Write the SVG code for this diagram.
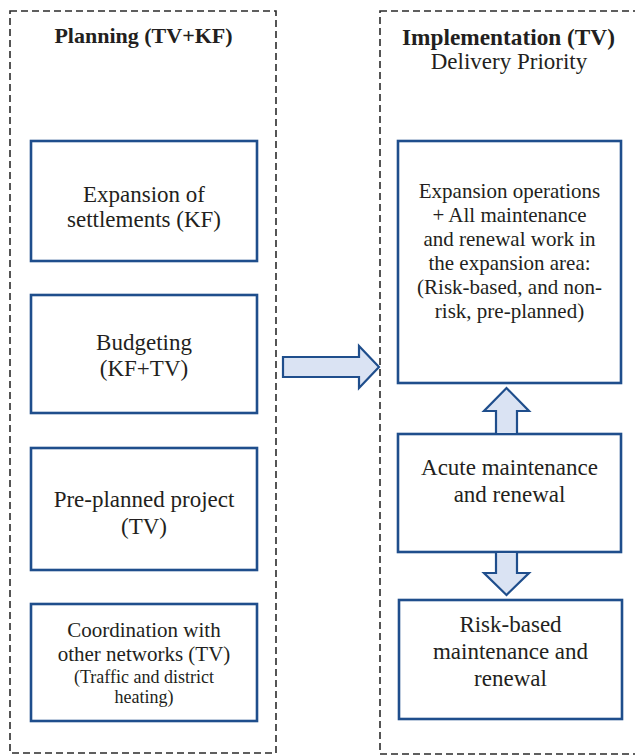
<svg xmlns="http://www.w3.org/2000/svg" width="635" height="756" viewBox="0 0 635 756">
  <style>
    .frame { fill: none; stroke: #2b2b2b; stroke-width: 1.6; stroke-dasharray: 7 4; }
    .box { fill: #ffffff; stroke: #1f4e8c; stroke-width: 2.6; }
    .arrow { fill: #dae3f3; stroke: #1f4e8c; stroke-width: 2.2; stroke-linejoin: miter; }
    text { font-family: 'Liberation Serif', Tinos, 'Times New Roman', 'DejaVu Serif', serif; fill: #231f20; text-anchor: middle; }
    .title { font-weight: bold; }
    .t23 { font-size: 23px; }
    .t21 { font-size: 21px; }
    .t18 { font-size: 18px; }
  </style>

  <!-- Planning column -->
  <g id="planning">
    <rect class="frame" x="10" y="11" width="266" height="742"/>
    <text class="title" x="143.5" y="43" font-size="22">Planning (TV+KF)</text>
  </g>

  <!-- Implementation column -->
  <g id="implementation">
    <rect class="frame" x="380" y="11" width="270" height="743"/>
    <text class="title" x="508.5" y="45" font-size="23.3">Implementation (TV)</text>
    <text class="t23" x="509" y="69">Delivery Priority</text>
  </g>

  <g id="expansion-settlements">
    <rect class="box" x="31" y="141" width="226" height="120"/>
    <text class="t23" x="144" y="202">Expansion of</text>
    <text class="t23" x="144" y="227">settlements (KF)</text>
  </g>

  <g id="budgeting">
    <rect class="box" x="31" y="295" width="226" height="118"/>
    <text class="t23" x="144" y="350">Budgeting</text>
    <text class="t23" x="144" y="376">(KF+TV)</text>
  </g>

  <g id="preplanned-project">
    <rect class="box" x="31" y="448" width="226" height="122"/>
    <text class="t23" x="144" y="507">Pre-planned project</text>
    <text class="t23" x="144" y="534">(TV)</text>
  </g>

  <g id="coordination">
    <rect class="box" x="31" y="604" width="226" height="117"/>
    <text class="t21" x="144" y="637">Coordination with</text>
    <text class="t21" x="144" y="661">other networks (TV)</text>
    <text class="t18" x="144" y="683">(Traffic and district</text>
    <text class="t18" x="144" y="703">heating)</text>
  </g>

  <g id="expansion-operations">
    <rect class="box" x="398" y="141" width="223" height="242"/>
    <text class="t21" x="509.5" y="198">Expansion operations</text>
    <text class="t21" x="509.5" y="222">+ All maintenance</text>
    <text class="t21" x="509.5" y="246">and renewal work in</text>
    <text class="t21" x="509.5" y="270">the expansion area:</text>
    <text class="t21" x="509.5" y="294">(Risk-based, and non-</text>
    <text class="t21" x="509.5" y="318">risk, pre-planned)</text>
  </g>

  <g id="acute-maintenance">
    <rect class="box" x="398" y="434" width="223" height="118"/>
    <text class="t23" x="509.5" y="475">Acute maintenance</text>
    <text class="t23" x="509.5" y="502">and renewal</text>
  </g>

  <g id="risk-based-maintenance">
    <rect class="box" x="399" y="600" width="223" height="119"/>
    <text class="t23" x="510.5" y="632">Risk-based</text>
    <text class="t23" x="510.5" y="659">maintenance and</text>
    <text class="t23" x="510.5" y="686">renewal</text>
  </g>

  <!-- Block arrows -->
  <g id="connectors">
    <path class="arrow" d="M283,357 H359 V346 L379,367 L359,388 V377 H283 Z"/>
    <path class="arrow" d="M496,434 V411 H484 L506.5,388 L529,411 H517 V434 Z"/>
    <path class="arrow" d="M496,552 V573 H484 L506.5,595 L529,573 H517 V552 Z"/>
  </g>
</svg>
